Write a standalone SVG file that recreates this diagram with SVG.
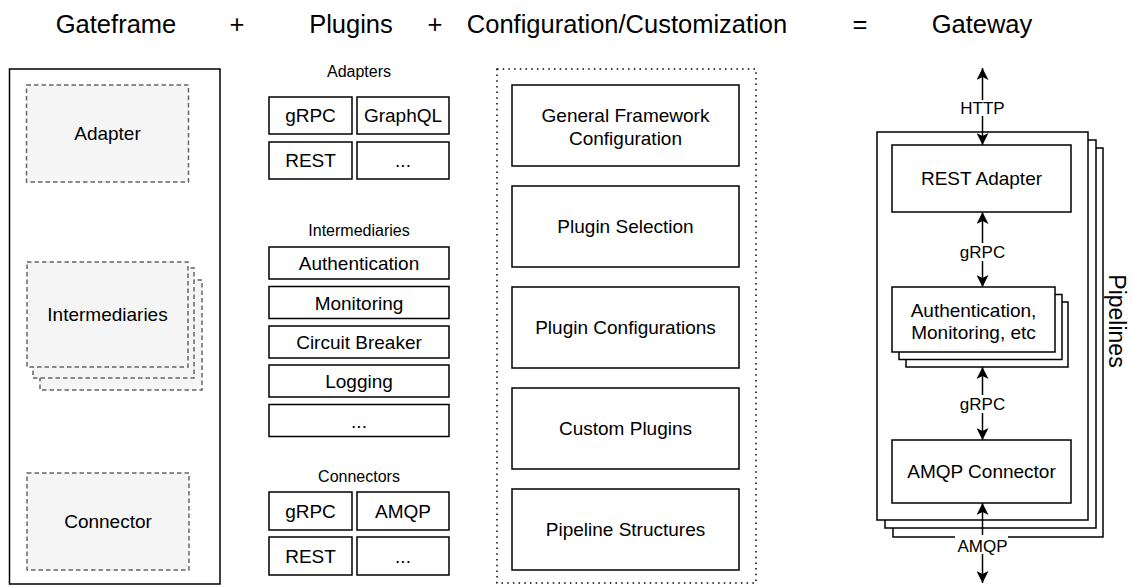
<svg xmlns="http://www.w3.org/2000/svg" width="1132" height="587" viewBox="0 0 1132 587">
  <style>
    text { font-family: "Liberation Sans", Arial, Helvetica, sans-serif; fill: #000; text-anchor: middle; }
    .title { font-size: 25.5px; }
    .lbl { font-size: 19px; }
    .head { font-size: 16px; }
    .edge { font-size: 17px; }
    .side { font-size: 23px; }
    .solid { fill: #fff; stroke: #000; stroke-width: 1.5; }
    .dash { fill: #f5f5f5; stroke: #666; stroke-width: 1.5; stroke-dasharray: 4.5 3; }
    .dots { fill: none; stroke: #000; stroke-width: 1.5; stroke-dasharray: 1.5 4.2; }
    .wire { fill: none; stroke: #000; stroke-width: 1.5; marker-start: url(#head); marker-end: url(#head); }
    .bg { fill: #fff; }
  </style>
  <defs>
    <marker id="head" markerUnits="userSpaceOnUse" markerWidth="12" markerHeight="12" refX="12" refY="6" orient="auto-start-reverse">
      <path d="M0,0 L12,6 L0,12 L3,6 Z" fill="#000"/>
    </marker>
  </defs>

  <rect width="1132" height="587" fill="#fff"/>

  <!-- column headings -->
  <g id="titles">
    <text class="title" x="116" y="32.5">Gateframe</text>
    <text class="title" x="237" y="32.5">+</text>
    <text class="title" x="351" y="32.5">Plugins</text>
    <text class="title" x="435" y="32.5">+</text>
    <text class="title" x="627" y="32.5">Configuration/Customization</text>
    <text class="title" x="860" y="32.5">=</text>
    <text class="title" x="982" y="32.5">Gateway</text>
  </g>

  <!-- Gateframe skeleton -->
  <g id="gateframe">
    <rect class="solid" x="9.5" y="69" width="210.5" height="515"/>
  </g>
  <g id="gf-adapter">
    <rect class="dash" x="26.5" y="85" width="162" height="97"/>
    <text class="lbl" x="107.5" y="140">Adapter</text>
  </g>
  <g id="gf-intermediaries">
    <rect class="dash" x="40" y="280" width="162" height="110"/>
    <rect class="dash" x="33" y="268" width="161" height="110"/>
    <rect class="dash" x="27" y="262" width="161" height="105"/>
    <text class="lbl" x="107.5" y="321">Intermediaries</text>
  </g>
  <g id="gf-connector">
    <rect class="dash" x="27" y="473" width="162" height="97"/>
    <text class="lbl" x="108" y="528">Connector</text>
  </g>

  <!-- Plugins -->
  <g id="plugins-adapters">
    <text class="head" x="359" y="77">Adapters</text>
    <rect class="solid" x="269" y="97" width="83" height="37"/>
    <text class="lbl" x="310.5" y="122">gRPC</text>
    <rect class="solid" x="357" y="97" width="92" height="37"/>
    <text class="lbl" x="403" y="122">GraphQL</text>
    <rect class="solid" x="269" y="142" width="83" height="37"/>
    <text class="lbl" x="310.5" y="167">REST</text>
    <rect class="solid" x="357" y="142" width="92" height="37"/>
    <text class="lbl" x="403" y="167">...</text>
  </g>
  <g id="plugins-intermediaries">
    <text class="head" x="359" y="236">Intermediaries</text>
    <rect class="solid" x="269" y="247" width="180" height="32"/>
    <text class="lbl" x="359" y="270">Authentication</text>
    <rect class="solid" x="269" y="286.5" width="180" height="32"/>
    <text class="lbl" x="359" y="309.5">Monitoring</text>
    <rect class="solid" x="269" y="326" width="180" height="32"/>
    <text class="lbl" x="359" y="349">Circuit Breaker</text>
    <rect class="solid" x="269" y="365" width="180" height="32"/>
    <text class="lbl" x="359" y="388">Logging</text>
    <rect class="solid" x="269" y="404.5" width="180" height="32"/>
    <text class="lbl" x="359" y="427.5">...</text>
  </g>
  <g id="plugins-connectors">
    <text class="head" x="359" y="482">Connectors</text>
    <rect class="solid" x="269" y="492" width="83" height="38"/>
    <text class="lbl" x="310.5" y="518">gRPC</text>
    <rect class="solid" x="357" y="492" width="92" height="38"/>
    <text class="lbl" x="403" y="518">AMQP</text>
    <rect class="solid" x="269" y="537" width="83" height="38"/>
    <text class="lbl" x="310.5" y="563">REST</text>
    <rect class="solid" x="357" y="537" width="92" height="38"/>
    <text class="lbl" x="403" y="563">...</text>
  </g>

  <!-- Configuration / customization -->
  <g id="config">
    <rect class="dots" x="497" y="69" width="259" height="514"/>
  </g>
  <g id="cfg-general">
    <rect class="solid" x="512" y="85" width="227" height="81"/>
    <text class="lbl" x="625.5" y="122">General Framework</text>
    <text class="lbl" x="625.5" y="145">Configuration</text>
  </g>
  <g id="cfg-selection">
    <rect class="solid" x="512" y="186" width="227" height="81"/>
    <text class="lbl" x="625.5" y="233">Plugin Selection</text>
  </g>
  <g id="cfg-plugin-config">
    <rect class="solid" x="512" y="287" width="227" height="81"/>
    <text class="lbl" x="625.5" y="334">Plugin Configurations</text>
  </g>
  <g id="cfg-custom">
    <rect class="solid" x="512" y="388" width="227" height="81"/>
    <text class="lbl" x="625.5" y="435">Custom Plugins</text>
  </g>
  <g id="cfg-structures">
    <rect class="solid" x="512" y="489" width="227" height="81"/>
    <text class="lbl" x="625.5" y="536">Pipeline Structures</text>
  </g>

  <!-- Gateway: stacked pipelines -->
  <g id="pipelines">
    <rect class="solid" x="893" y="148" width="210" height="389"/>
    <rect class="solid" x="885" y="140" width="211" height="388"/>
    <rect class="solid" x="877" y="132" width="211" height="388"/>
    <text class="side" transform="translate(1109 321) rotate(90)">Pipelines</text>
  </g>
  <g id="rest-adapter">
    <rect class="solid" x="892" y="145" width="179" height="67"/>
    <text class="lbl" x="981.5" y="185">REST Adapter</text>
  </g>
  <g id="intermediary-stack">
    <rect class="solid" x="906" y="302" width="162" height="65"/>
    <rect class="solid" x="899" y="294.5" width="163" height="65"/>
    <rect class="solid" x="892" y="287" width="163" height="65"/>
    <text class="lbl" x="973.5" y="317">Authentication,</text>
    <text class="lbl" x="973.5" y="339">Monitoring, etc</text>
  </g>
  <g id="amqp-connector">
    <rect class="solid" x="892" y="440" width="179" height="63"/>
    <text class="lbl" x="981.5" y="478">AMQP Connector</text>
  </g>

  <!-- connectors -->
  <g id="connectors">
    <line class="wire" x1="982.5" y1="68" x2="982.5" y2="145"/>
    <rect class="bg" x="960" y="100" width="45" height="16"/>
    <text class="edge" x="982.5" y="114">HTTP</text>

    <line class="wire" x1="982.5" y1="212" x2="982.5" y2="287"/>
    <rect class="bg" x="960" y="243" width="45" height="18"/>
    <text class="edge" x="982.5" y="258">gRPC</text>

    <line class="wire" x1="982.5" y1="367" x2="982.5" y2="440"/>
    <rect class="bg" x="960" y="395" width="45" height="18"/>
    <text class="edge" x="982.5" y="410">gRPC</text>

    <line class="wire" x1="982.5" y1="503" x2="982.5" y2="583"/>
    <rect class="bg" x="955" y="535" width="53" height="19"/>
    <text class="edge" x="982.5" y="552">AMQP</text>
  </g>
</svg>
